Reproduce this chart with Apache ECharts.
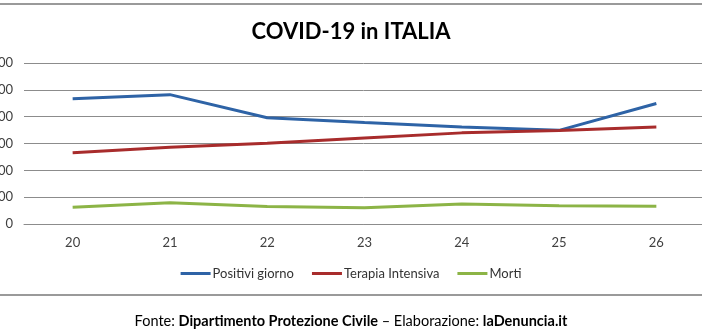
<!DOCTYPE html>
<html>
<head>
<meta charset="utf-8">
<style>
  html, body { margin: 0; padding: 0; background: #fff; }
  #chart { width: 702px; height: 336px; }
</style>
<script src="https://cdn.jsdelivr.net/npm/echarts@6/dist/echarts.min.js"></script>
</head>
<body>
<div id="chart"></div>
<script>
// Giorni di marzo 2020
const giorni = ['20', '21', '22', '23', '24', '25', '26'];
// Nuovi positivi giornalieri
const positiviGiorno = [4670, 4821, 3957, 3780, 3612, 3491, 4492];
// Ricoverati in terapia intensiva
const terapiaIntensiva = [2655, 2857, 3009, 3204, 3396, 3489, 3612];
// Decessi giornalieri
const morti = [627, 793, 651, 601, 743, 683, 662];
// Valori delle linee di griglia dell'asse verticale
const yTicks = [0, 1000, 2000, 3000, 4000, 5000, 6000];

const FONT = 'Lato, "Open Sans", sans-serif';
const chart = echarts.init(document.getElementById('chart'));

chart.setOption({
  backgroundColor: '#ffffff',
  animation: false,
  title: {
    text: 'COVID-19 in ITALIA',
    left: 'center',
    top: 16,
    textStyle: { fontFamily: FONT, fontWeight: 'bold', fontSize: 22, color: '#000' }
  },
  legend: {
    top: 262,
    left: 'center',
    icon: 'rect',
    itemWidth: 30,
    itemHeight: 3,
    itemGap: 18,
    textStyle: { fontFamily: FONT, fontSize: 13, color: '#333', padding: [0, 0, 0, -3] },
    data: ['Positivi giorno', 'Terapia Intensiva', 'Morti']
  },
  grid: { left: 24, top: 63, width: 681, height: 161, containLabel: false, outerBoundsMode: 'none' },
  xAxis: {
    type: 'category',
    data: giorni,
    boundaryGap: true,
    axisLine: { lineStyle: { color: '#8c8c8c', width: 1 } },
    axisTick: { show: false },
    axisLabel: { margin: 12, fontFamily: FONT, fontSize: 13, color: '#404040' }
  },
  yAxis: {
    type: 'value',
    min: yTicks[0],
    max: yTicks[yTicks.length - 1],
    interval: yTicks[1] - yTicks[0],
    axisLine: { show: false },
    axisTick: { show: false },
    axisLabel: {
      margin: 11, fontFamily: FONT, fontSize: 13, color: '#404040',
      formatter: (v) => String(v)
    },
    splitLine: { lineStyle: { color: '#8c8c8c', width: 1 } }
  },
  series: [
    {
      name: 'Positivi giorno', type: 'line', data: positiviGiorno,
      showSymbol: false, symbol: 'none',
      itemStyle: { color: '#2e63a6' },
      lineStyle: { color: '#2e63a6', width: 3 }
    },
    {
      name: 'Terapia Intensiva', type: 'line', data: terapiaIntensiva,
      showSymbol: false, symbol: 'none',
      itemStyle: { color: '#a82c2c' },
      lineStyle: { color: '#a82c2c', width: 3 }
    },
    {
      name: 'Morti', type: 'line', data: morti,
      showSymbol: false, symbol: 'none',
      itemStyle: { color: '#8cb446' },
      lineStyle: { color: '#8cb446', width: 3 }
    }
  ],
  graphic: [
    // riga superiore della cornice
    { type: 'rect', left: 0, top: 3, shape: { width: 702, height: 2 }, style: { fill: '#9a9a9a' }, silent: true },
    // separatore sopra la fonte
    { type: 'rect', left: 0, top: 294, shape: { width: 702, height: 2 }, style: { fill: '#9a9a9a' }, silent: true },
    {
      type: 'text',
      left: 'center',
      top: 314,
      style: {
        text: '{n|Fonte: }{b|Dipartimento Protezione Civile}{n| – Elaborazione: }{b|laDenuncia.it}',
        rich: {
          n: { fontFamily: FONT, fontSize: 14.5, color: '#000' },
          b: { fontFamily: FONT, fontSize: 14.5, fontWeight: 'bold', color: '#000' }
        }
      }
    }
  ]
});
</script>
</body>
</html>
